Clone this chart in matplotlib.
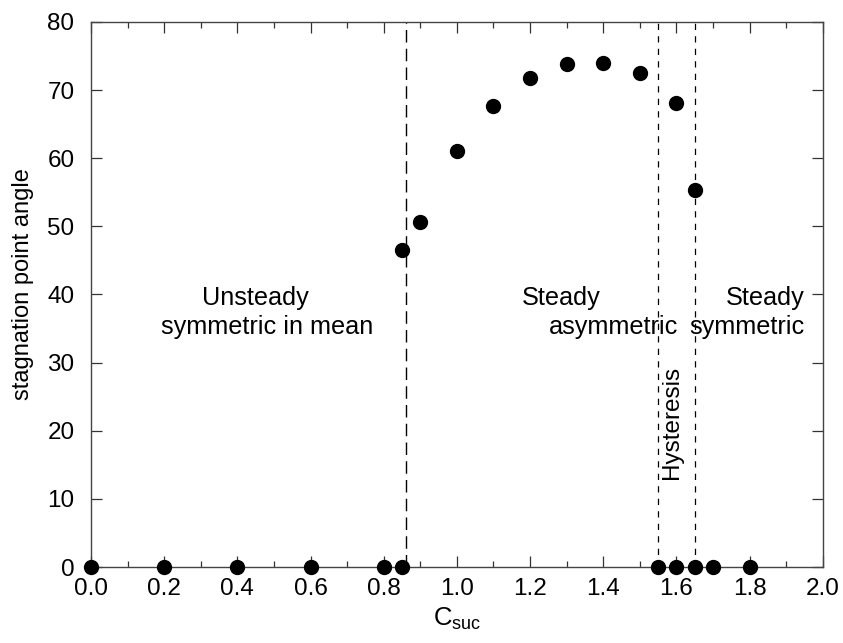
import matplotlib
matplotlib.use("Agg")
import matplotlib.pyplot as plt
from matplotlib.ticker import MultipleLocator

plt.rcParams["font.family"] = ["Liberation Sans", "DejaVu Sans"]
plt.rcParams["mathtext.fontset"] = "custom"
plt.rcParams["mathtext.rm"] = "Liberation Sans"
plt.rcParams["mathtext.it"] = "Liberation Sans"

# Data
c_suc = [0.0, 0.2, 0.4, 0.6, 0.8, 0.85, 1.55, 1.6, 1.65, 1.7, 1.8,
         0.85, 0.9, 1.0, 1.1, 1.2, 1.3, 1.4, 1.5, 1.6, 1.65]
angle = [0, 0, 0, 0, 0, 0, 0, 0, 0, 0, 0,
         46.6, 50.6, 61.1, 67.7, 71.7, 73.8, 74.0, 72.5, 68.1, 55.4]

onset_line = 0.86
hysteresis_lines = [1.55, 1.65]

fig = plt.figure(figsize=(8.43, 6.43), dpi=100)
ax = fig.add_axes([0.108, 0.118, 0.868, 0.848])

ax.plot(c_suc, angle, "o", color="black", markersize=10, clip_on=False, zorder=5)

# Regime boundaries
ax.axvline(onset_line, color="black", lw=1, dashes=(9, 4.5))
for xv in hysteresis_lines:
    ax.axvline(xv, color="black", lw=0.9, dashes=(5, 5))

fs = 17.5
afs = 18.2
ax.text(0.448, 39.5, "Unsteady", ha="center", va="center", fontsize=afs)
ax.text(0.481, 35.3, "symmetric in mean", ha="center", va="center", fontsize=afs)
ax.text(1.284, 39.5, "Steady", ha="center", va="center", fontsize=afs)
ax.text(1.428, 35.3, "asymmetric", ha="center", va="center", fontsize=afs)
ax.text(1.951, 39.5, "Steady", ha="right", va="center", fontsize=afs)
ax.text(1.951, 35.3, "symmetric", ha="right", va="center", fontsize=afs)
ax.text(1.588, 21.3, "Hysteresis", ha="center", va="center", rotation=90,
        fontsize=fs)

ax.set_xlim(0, 2.0)
ax.set_ylim(0, 80)
ax.xaxis.set_major_locator(MultipleLocator(0.2))
ax.xaxis.set_minor_locator(MultipleLocator(0.1))
ax.yaxis.set_major_locator(MultipleLocator(10))
ax.xaxis.set_major_formatter(plt.FuncFormatter(lambda v, p: f"{v:.1f}"))

ax.tick_params(which="both", direction="in", top=True, right=True,
               labelsize=fs, width=0.9, color="#333333")
ax.tick_params(which="major", length=8)
ax.tick_params(which="minor", length=4.5)
ax.tick_params(axis="x", which="major", pad=8)
ax.tick_params(axis="y", which="major", pad=12)
for sp in ax.spines.values():
    sp.set_linewidth(1)
    sp.set_color("#444444")

ax.set_xlabel(r"$\mathrm{C_{suc}}$", fontsize=fs + 1, labelpad=4)
ax.set_ylabel("stagnation point angle", fontsize=fs - 0.5)
ax.yaxis.set_label_coords(-0.078, 0.52)

fig.savefig("out.png", dpi=100)
